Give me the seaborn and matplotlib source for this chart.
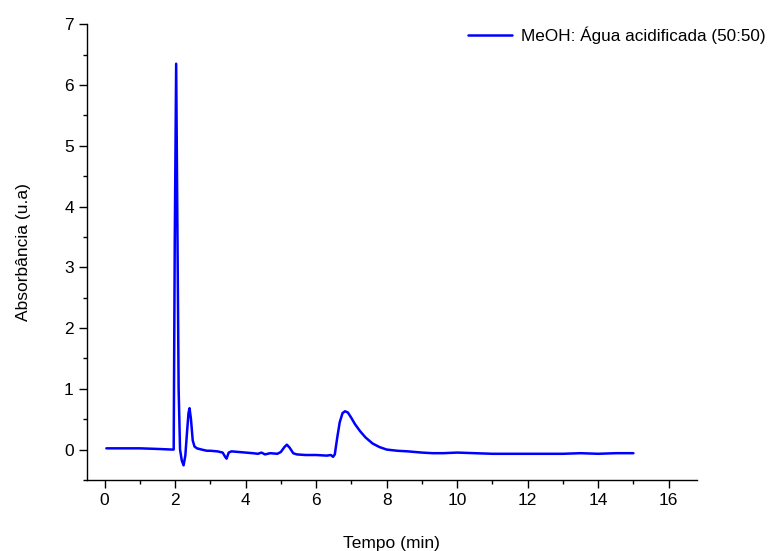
import numpy as np
import pandas as pd
import matplotlib
matplotlib.use("Agg")
import matplotlib.pyplot as plt
import seaborn as sns
from matplotlib.ticker import MultipleLocator

# --- chromatogram points ---
tempo = [0.05, 0.5, 1.0, 1.5, 1.9, 1.96, 1.99, 2.03, 2.07, 2.1, 2.14, 2.19, 2.24, 2.29,
         2.34, 2.38, 2.41, 2.45, 2.5, 2.55, 2.62, 2.75, 2.9, 3.0, 3.2, 3.35, 3.42, 3.46,
         3.52, 3.6, 3.8, 4.0, 4.2, 4.35, 4.45, 4.55, 4.7, 4.9, 5.0, 5.1, 5.17, 5.25,
         5.35, 5.45, 5.7, 6.0, 6.3, 6.42, 6.48, 6.53, 6.6, 6.67, 6.75, 6.82, 6.9, 7.0,
         7.1, 7.25, 7.4, 7.6, 7.8, 8.0, 8.3, 8.6, 9.0, 9.3, 9.6, 10.0, 10.5, 11.0,
         11.5, 12.0, 12.5, 13.0, 13.5, 14.0, 14.5, 15.0]
absorbancia = [0.02, 0.02, 0.02, 0.01, 0.0, 0.0, 3.4, 6.35, 3.3, 1.0, 0.0, -0.18, -0.26, -0.1,
               0.3, 0.6, 0.68, 0.5, 0.15, 0.05, 0.02, 0.0, -0.02, -0.02, -0.03, -0.05, -0.12, -0.15,
               -0.05, -0.03, -0.04, -0.05, -0.06, -0.07, -0.05, -0.08, -0.06, -0.07, -0.04, 0.04, 0.08, 0.03,
               -0.06, -0.08, -0.09, -0.09, -0.1, -0.09, -0.12, -0.08, 0.2, 0.45, 0.6, 0.63, 0.61, 0.52,
               0.42, 0.3, 0.2, 0.1, 0.04, 0.0, -0.02, -0.03, -0.05, -0.06, -0.06, -0.05, -0.06, -0.07,
               -0.07, -0.07, -0.07, -0.07, -0.06, -0.07, -0.06, -0.06]

df = pd.DataFrame({"tempo": tempo, "abs": absorbancia})

sns.set_theme(style="ticks")
plt.rcParams["font.family"] = ["Liberation Sans", "DejaVu Sans"]
plt.rcParams["text.color"] = "black"
plt.rcParams["axes.labelcolor"] = "black"

fig = plt.figure(figsize=(7.73, 5.51), dpi=100)
ax = fig.add_axes([0.1125, 0.129, 0.789, 0.827])

sns.lineplot(data=df, x="tempo", y="abs", sort=False, color="#0000ff", linewidth=1.8,
             label="MeOH: Água acidificada (50:50)", ax=ax)

ax.set_xlim(-0.5, 16.8)
ax.set_ylim(-0.5, 7)
ax.xaxis.set_major_locator(MultipleLocator(2))
ax.xaxis.set_minor_locator(MultipleLocator(1))
ax.yaxis.set_major_locator(MultipleLocator(1))
ax.yaxis.set_minor_locator(MultipleLocator(0.5))
ax.tick_params(which="major", length=6, width=1, labelsize=12.5, color="black", labelcolor="black")
ax.tick_params(which="minor", length=3, width=1, color="black")
for s in ["left", "bottom"]:
    ax.spines[s].set_color("black")
    ax.spines[s].set_linewidth(1)
sns.despine(ax=ax)

ax.set_xlabel("Tempo (min)", fontsize=12.5, labelpad=20)
ax.set_ylabel("Absorbância (u.a)", fontsize=12.5, labelpad=24)

ax.legend(loc="upper right", bbox_to_anchor=(1.01, 0.98), bbox_transform=fig.transFigure,
          frameon=False, fontsize=12.3, handlelength=2.6, handletextpad=0.5)

fig.savefig("out.png", dpi=100)
